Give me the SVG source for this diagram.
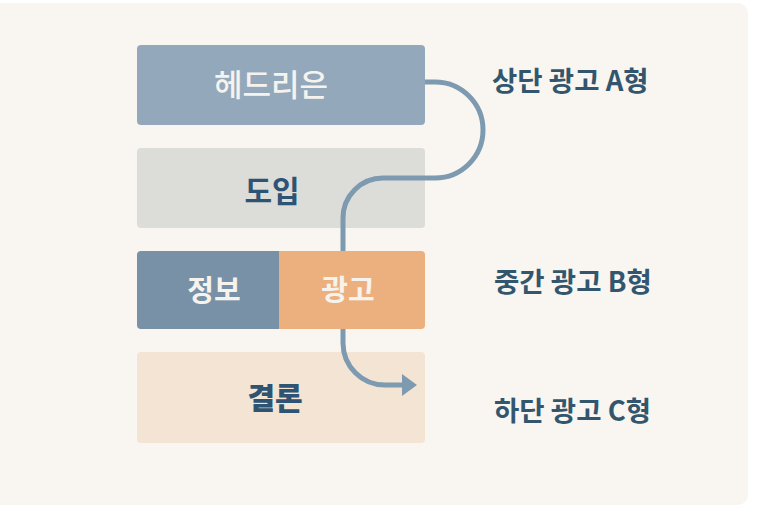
<svg xmlns="http://www.w3.org/2000/svg" width="767" height="516" viewBox="0 0 767 516">
<defs>
<style>
.box{stroke:none}
.t{font-family:"Noto Sans CJK KR","Noto Sans",sans-serif;text-anchor:middle}
.w{fill:#f6f3ee}
.d{fill:#2e5373}
.lbl{font-family:"Noto Sans CJK KR","Noto Sans",sans-serif;font-size:27.5px;font-weight:700;fill:#33566f}
.conn{fill:none;stroke:#7d9ab0;stroke-width:5;stroke-linecap:butt}
</style>
<marker id="ah" markerUnits="userSpaceOnUse" markerWidth="16" markerHeight="24" refX="0" refY="11" orient="auto">
<path d="M0,0 L15,11 L0,22 Z" fill="#7d9ab0"/>
</marker>
</defs>
<rect x="0" y="0" width="767" height="516" fill="#ffffff"/>
<rect x="-12" y="3" width="760" height="502" rx="10" fill="#f9f6f1"/>
<g id="headline">
<rect class="box" x="137" y="45" width="288" height="80" rx="4" fill="#93a9bb"/>
<text class="t w" x="271" y="96" font-size="31" font-weight="500">헤드리은</text>
</g>
<g id="intro">
<rect class="box" x="137" y="148" width="288" height="80" rx="4" fill="#dcdcd8"/>
<text class="t d" x="272" y="202" font-size="30" font-weight="700">도입</text>
</g>
<g id="conclusion">
<rect class="box" x="137" y="352" width="288" height="91" rx="4" fill="#f3e4d3"/>
<text class="t d" x="275" y="409" font-size="30" font-weight="900">결론</text>
</g>
<g id="connectors">
<path class="conn" d="M425,82 H435 A48,48 0 0 1 435,178 H383 A40,40 0 0 0 343,218 V343 A42,42 0 0 0 385,385 H402" marker-end="url(#ah)"/>
</g>
<g id="info-ad">
<path class="box" d="M141,251 H279 V329 H141 A4,4 0 0 1 137,325 V255 A4,4 0 0 1 141,251 Z" fill="#7891a6"/>
<path class="box" d="M279,251 H421 A4,4 0 0 1 425,255 V325 A4,4 0 0 1 421,329 H279 Z" fill="#ecb07f"/>
<text class="t w" x="214" y="301" font-size="29" font-weight="700">정보</text>
<text class="t w" x="348" y="301" font-size="29" font-weight="700">광고</text>
</g>
<g id="labels">
<text class="lbl" x="492" y="91">상단 광고 A형</text>
<text class="lbl" x="494" y="292">중간 광고 B형</text>
<text class="lbl" x="494" y="421">하단 광고 C형</text>
</g>
</svg>
